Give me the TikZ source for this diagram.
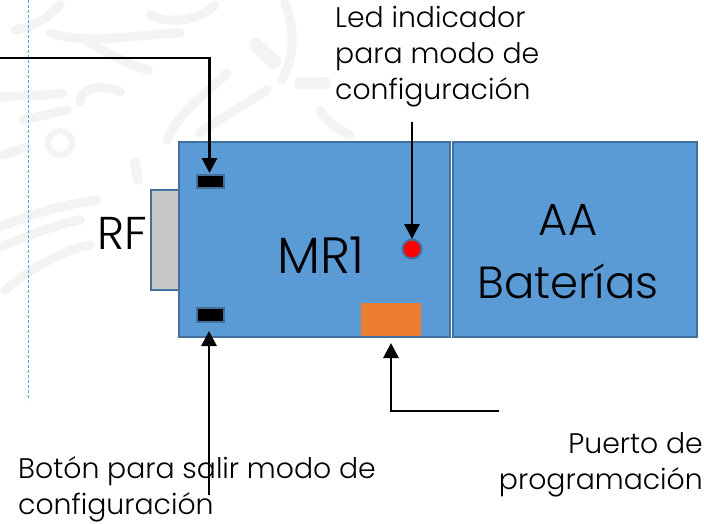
\documentclass[tikz,border=0pt]{standalone}
\usepackage{fontspec}
\setmainfont{Poppins Light}
\usetikzlibrary{arrows.meta}
\definecolor{blu}{HTML}{5B9BD5}
\definecolor{edg}{HTML}{41719C}
\definecolor{org}{HTML}{ED7D31}
\definecolor{wm}{HTML}{F3F3F3}
\definecolor{gd}{HTML}{4FA3E8}
\tikzset{x=1pt,y=-1pt,
 box/.style={draw=edg,line width=2pt,fill=blu,outer sep=0pt,inner sep=0pt,anchor=north west},
 lab/.style={font=\fontsize{28.3}{36}\selectfont,align=left,inner sep=0pt,text=black},
 big/.style={font=\fontsize{44}{63}\selectfont,align=center,inner sep=0pt,text=black},
 arr/.style={draw=black,line width=2.9pt,-{Triangle[length=15pt,width=15pt]}},
 swirl/.style={draw=wm,line width=9pt,line cap=round}}
\begin{document}
\begin{tikzpicture}
\useasboundingbox (0,0) rectangle (704,523);
\fill[white] (0,0) rectangle (704,523);
% watermark
\draw[swirl] (3,155) -- (27,147);
\draw[swirl] (23,120) -- (67,110);
\draw[swirl] (0,97) .. controls (20,95) and (40,97) .. (63,93);
\draw[wm,line width=6pt] (60,143) circle (12);
\draw[swirl] (80,102) .. controls (80,85) and (110,85) .. (120,92);
\draw[swirl] (50,33) .. controls (90,45) and (130,35) .. (180,33);
\draw[swirl] (85,40) .. controls (110,55) and (130,65) .. (148,70);
\draw[swirl] (167,140) .. controls (180,110) and (205,95) .. (227,73);
\draw[swirl] (200,133) .. controls (225,115) and (245,105) .. (267,90);
\draw[swirl] (285,3) .. controls (295,30) and (295,55) .. (282,80);
\draw[wm,line width=14pt,line cap=round] (256,45) -- (274,62);
\draw[wm,line width=12pt,line cap=round] (300,83) -- (325,83);
\draw[wm,line width=10pt,line cap=round] (135,162) -- (138,180);
\draw[swirl] (0,227) .. controls (30,215) and (60,205) .. (97,200);
\draw[swirl] (0,247) .. controls (30,235) and (55,225) .. (80,220);
\draw[swirl] (5,290) .. controls (30,270) and (60,250) .. (90,245);
\draw[swirl] (60,5) .. controls (50,15) and (40,25) .. (15,30);
\draw[swirl] (150,15) .. controls (170,25) and (200,20) .. (215,5);
\draw[swirl] (320,110) .. controls (330,125) and (340,130) .. (350,135);
% guide
\coordinate (g0) at (28,0);
\coordinate (g1) at (28,400);
\draw[draw=gd,line width=1pt,densely dashed] (g0) -- (g1);
% shapes
\node[box,fill=black!22,minimum width=32pt,minimum height=100pt] (rf) at (151,189.5) {};
\node[box,minimum width=271pt,minimum height=195pt] (mr) at (179,142) {};
\node[box,minimum width=244pt,minimum height=195pt] (aa) at (453,142) {};
\node[box,fill=black,minimum width=27pt,minimum height=13.5pt,line width=2pt] (b1) at (196.5,174.5) {};
\node[box,fill=black,minimum width=27pt,minimum height=13.5pt,line width=2pt] (b2) at (196.5,308) {};
\node[circle,draw=edg,fill=red,line width=2pt,minimum size=19pt,inner sep=0pt,outer sep=0pt] (led) at (412,249) {};
\node[anchor=north west,fill=org,minimum width=60pt,minimum height=33pt,inner sep=0pt,outer sep=0pt] (pp) at (361,303) {};
% text
\node[big,font=\fontsize{46}{60}\selectfont] (rft) at (122,233) {RF};
\node[big,font=\fontsize{51}{60}\selectfont] (mrt) at (321,255) {MR1};
\node[big,font=\fontsize{45}{63}\selectfont] (aat) at (568,252) {AA\\Baterías};
\node[lab,anchor=north west] (t1) at (335,6) {Led indicador\\para modo de\\configuración};
\node[lab,anchor=north east,align=right] (t3) at (703,432) {Puerto de\\programación};
\node[lab,anchor=north west] (t2) at (18,456) {Botón para salir modo de\\configuración};
% connectors
\coordinate (a0) at (0,58);
\coordinate (a1) at (209.5,58);
\coordinate (a2) at (209.5,173);
\coordinate (c0) at (412,122);
\coordinate (c1) at (412,239);
\coordinate (d0) at (209,495);
\coordinate (d1) at (209,331);
\coordinate (e0) at (499,411);
\coordinate (e1) at (391,411);
\coordinate (e2) at (391,343);
\draw[arr] (a0) -- (a1) -- (a2);
\draw[arr] (c0) -- (c1);
\draw[arr] (d0) -- (d1);
\draw[arr] (e0) -- (e1) -- (e2);
\end{tikzpicture}
\end{document}
